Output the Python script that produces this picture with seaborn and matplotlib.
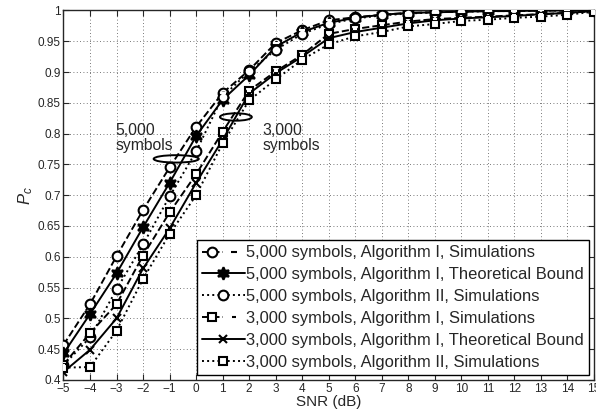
import numpy as np
import pandas as pd
import matplotlib
matplotlib.use("Agg")
import matplotlib.pyplot as plt
import seaborn as sns
from matplotlib.lines import Line2D
from matplotlib.patches import Ellipse
from matplotlib.legend_handler import HandlerTuple

# SNR points (dB)
snr = list(range(-5, 16))

# probability of correct detection
p_5000_alg1_sim = [0.457, 0.523, 0.601, 0.676, 0.745, 0.811, 0.866, 0.903, 0.947, 0.968, 0.984,
                   0.989, 0.993, 0.996, 0.997, 0.998, 0.999, 0.999, 1.0, 1.0, 1.0]
p_5000_alg1_bound = [0.443, 0.507, 0.573, 0.648, 0.720, 0.796, 0.855, 0.895, 0.941, 0.965, 0.980,
                     0.988, 0.993, 0.996, 0.997, 0.998, 0.999, 0.999, 1.0, 1.0, 1.0]
p_5000_alg2_sim = [0.424, 0.469, 0.547, 0.620, 0.698, 0.771, 0.860, 0.901, 0.936, 0.962, 0.978,
                   0.987, 0.992, 0.995, 0.997, 0.998, 0.999, 0.999, 1.0, 1.0, 1.0]
p_3000_alg1_sim = [0.425, 0.476, 0.523, 0.602, 0.672, 0.734, 0.803, 0.870, 0.901, 0.928, 0.962,
                   0.970, 0.976, 0.982, 0.986, 0.988, 0.990, 0.992, 0.994, 0.996, 0.999]
p_3000_alg1_bound = [0.413, 0.449, 0.500, 0.581, 0.646, 0.720, 0.790, 0.865, 0.898, 0.925, 0.955,
                     0.965, 0.972, 0.979, 0.984, 0.987, 0.989, 0.991, 0.994, 0.996, 0.999]
p_3000_alg2_sim = [0.420, 0.421, 0.480, 0.564, 0.637, 0.700, 0.784, 0.854, 0.888, 0.920, 0.945,
                   0.958, 0.965, 0.974, 0.978, 0.983, 0.985, 0.988, 0.990, 0.993, 0.998]

labels = ["5,000 symbols, Algorithm I, Simulations",
          "5,000 symbols, Algorithm I, Theoretical Bound",
          "5,000 symbols, Algorithm II, Simulations",
          "3,000 symbols, Algorithm I, Simulations",
          "3,000 symbols, Algorithm I, Theoretical Bound",
          "3,000 symbols, Algorithm II, Simulations"]

sns.set_style("ticks")
plt.rcParams["font.family"] = ["Liberation Sans", "DejaVu Sans"]
plt.rcParams["mathtext.fontset"] = "custom"
plt.rcParams["mathtext.it"] = "Liberation Sans:italic"
plt.rcParams["mathtext.rm"] = "Liberation Sans"

fig, ax = plt.subplots(figsize=(5.96, 4.18), dpi=100)
fig.subplots_adjust(left=0.1065, right=0.9966, top=0.975, bottom=0.091)

# стиль каждой кривой: (данные, линия, маркер, размер, нужна ли черта внутри)
styles = [
    (p_5000_alg1_sim, "--", "o", 7, True),
    (p_5000_alg1_bound, "-", (6, 1, 0), 9, False),
    (p_5000_alg2_sim, ":", "o", 7, False),
    (p_3000_alg1_sim, "--", "s", 6, True),
    (p_3000_alg1_bound, "-", "x", 6, False),
    (p_3000_alg2_sim, ":", "s", 6, False),
]

handles = []
for data, ls, mk, ms, bar in styles:
    face = "black" if mk == (6, 1, 0) else "white"
    sns.lineplot(x=snr, y=data, ax=ax, color="black", linestyle=ls, linewidth=1.4,
                 marker=mk, markersize=ms, markerfacecolor=face, markeredgecolor="black",
                 markeredgewidth=1.5, zorder=3)
    h = Line2D([], [], color="black", linestyle=ls, linewidth=1.4, marker=mk, markersize=ms,
               markerfacecolor=face, markeredgecolor="black", markeredgewidth=1.5)
    if bar:
        sns.lineplot(x=snr, y=data, ax=ax, color="black", linestyle="none", marker="_",
                     markersize=ms * 0.6, markeredgewidth=1.5, zorder=4)
        h = (h, Line2D([], [], color="black", linestyle="none", marker="_",
                       markersize=ms * 0.6, markeredgewidth=1.5))
    handles.append(h)

# эллипсы, объединяющие группы кривых
ax.add_patch(Ellipse((-0.75, 0.759), 1.7, 0.012, fill=False, edgecolor="black", linewidth=1.4, zorder=5))
ax.add_patch(Ellipse((1.5, 0.827), 1.2, 0.012, fill=False, edgecolor="black", linewidth=1.4, zorder=5))
ax.text(-3.05, 0.818, "5,000\nsymbols", fontsize=11.3, va="top", ha="left", linespacing=1.05)
ax.text(2.5, 0.818, "3,000\nsymbols", fontsize=11.3, va="top", ha="left", linespacing=1.05)

ax.set_xlim(-5, 15)
ax.set_ylim(0.4, 1.0)
ax.set_xticks(range(-5, 16))
ax.set_yticks(np.arange(0.4, 1.001, 0.05))
ax.set_xticklabels([str(t).replace("-", "\u2212") for t in range(-5, 16)])
ax.set_yticklabels(["0.4", "0.45", "0.5", "0.55", "0.6", "0.65", "0.7", "0.75", "0.8",
                    "0.85", "0.9", "0.95", "1"])
ax.tick_params(direction="in", top=True, right=True, labelsize=8.5, length=4, width=0.8, pad=2)
ax.grid(True, linestyle=(0, (1, 3)), color="black", linewidth=0.6, alpha=0.7)
for s in ax.spines.values():
    s.set_visible(True)
    s.set_linewidth(1.0)

ax.set_xlabel("SNR (dB)", fontsize=11, labelpad=0)
ax.set_ylabel(r"$P_c$", fontsize=12, labelpad=2)

leg = ax.legend(handles, labels, loc="lower right", fontsize=11.9, frameon=True, fancybox=False,
                edgecolor="black", framealpha=1, borderpad=0.3, labelspacing=0.42,
                handlelength=2.6, handletextpad=0.1, borderaxespad=0.3,
                handler_map={tuple: HandlerTuple(ndivide=None, pad=0)})
leg.get_frame().set_linewidth(1.0)

plt.savefig("out.png", dpi=100)
